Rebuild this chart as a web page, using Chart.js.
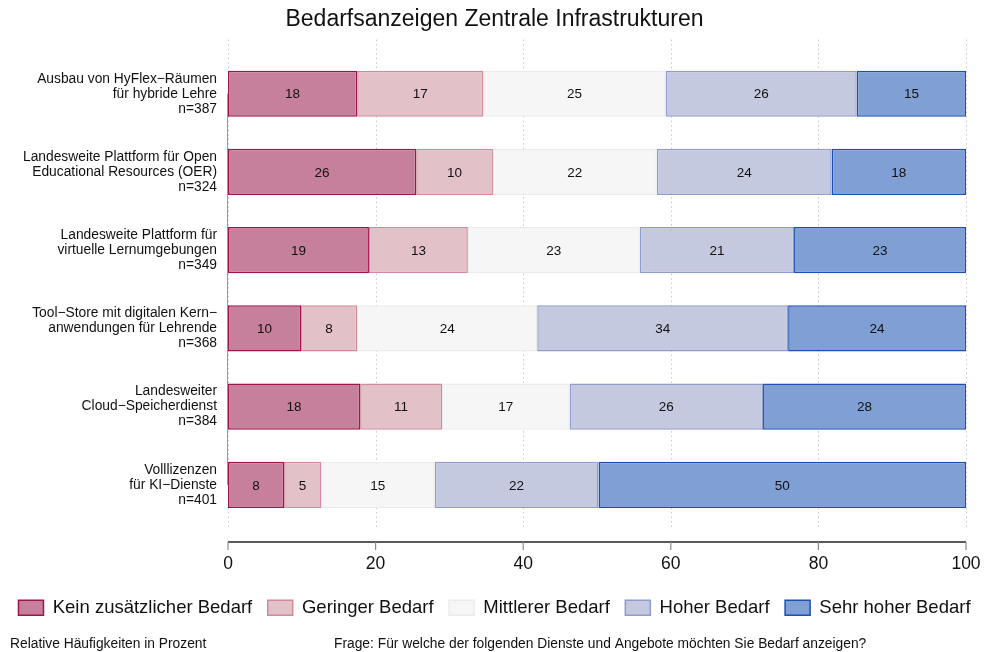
<!DOCTYPE html>
<html lang="de">
<head>
    <meta charset="UTF-8">
    <title>Bedarfsanzeigen Zentrale Infrastrukturen</title>
    <script src="https://cdn.jsdelivr.net/npm/chart.js"></script>
    <style>
        body { margin: 0; background: #fff; }
        #wrap { width: 989px; height: 652px; }
    </style>
</head>
<body>
    <div id="wrap"><canvas id="bedarfChart" width="989" height="652"></canvas></div>

    <script>
        // Werte in Prozent, gelesen aus der Vorlage
        const categories = [
            ["Ausbau von HyFlex−Räumen", "für hybride Lehre", "n=387"],
            ["Landesweite Plattform für Open", "Educational Resources (OER)", "n=324"],
            ["Landesweite Plattform für", "virtuelle Lernumgebungen", "n=349"],
            ["Tool−Store mit digitalen Kern−", "anwendungen für Lehrende", "n=368"],
            ["Landesweiter", "Cloud−Speicherdienst", "n=384"],
            ["Volllizenzen", "für KI−Dienste", "n=401"]
        ];
        const seriesNames = ["Kein zusätzlicher Bedarf", "Geringer Bedarf", "Mittlerer Bedarf", "Hoher Bedarf", "Sehr hoher Bedarf"];
        const keinBedarf     = [17.5, 25.5, 19.1,  9.9, 17.9,  7.6];
        const geringBedarf   = [17.1, 10.4, 13.4,  7.6, 11.1,  5.0];
        const mittelBedarf   = [24.7, 22.2, 23.3, 24.4, 17.3, 15.4];
        const hochBedarf     = [25.9, 23.7, 20.9, 34.0, 26.2, 22.2];
        const sehrHochBedarf = [14.8, 18.2, 23.3, 24.1, 27.5, 49.8];
        const xTicks = [0, 20, 40, 60, 80, 100];

        const fills   = ["#c6809c", "#e2c1c9", "#f6f6f6", "#c5c9e0", "#7f9fd5"];
        const borders = ["#a3134b", "#d08a9c", "#ebebeb", "#909ccc", "#1a4fb5"];
        const FONT = "'Liberation Sans', Arial, Helvetica, sans-serif";

        const values = [keinBedarf, geringBedarf, mittelBedarf, hochBedarf, sehrHochBedarf];
        const datasets = values.map((v, i) => ({
            label: seriesNames[i],
            data: v,
            backgroundColor: fills[i],
            borderColor: borders[i],
            borderWidth: 1.5,
            borderSkipped: false,
            categoryPercentage: 1,
            barPercentage: 0.59
        }));

        // Gitter, Achsen, Zahlen in den Balken, Fußzeile
        const decor = {
            id: 'decor',
            beforeDatasetsDraw(chart) {
                const ctx = chart.ctx, x = chart.scales.x, y = chart.scales.y;
                const area = chart.chartArea;
                ctx.save();
                ctx.strokeStyle = '#c8c8c8';
                ctx.lineWidth = 1;
                ctx.setLineDash([1.5, 3]);
                xTicks.forEach(t => {
                    const px = Math.round(x.getPixelForValue(t)) + 0.5;
                    ctx.beginPath();
                    ctx.moveTo(px, area.top - 15);
                    ctx.lineTo(px, area.bottom + 6);
                    ctx.stroke();
                });
                ctx.setLineDash([]);
                // y-Achse
                ctx.strokeStyle = '#9a9a9a';
                const x0 = x.getPixelForValue(0) - 0.5;
                ctx.beginPath();
                ctx.moveTo(x0, y.getPixelForTick(0));
                ctx.lineTo(x0, y.getPixelForTick(categories.length - 1));
                ctx.stroke();
                // x-Achse
                const ay = area.bottom + 18;
                ctx.strokeStyle = '#222';
                ctx.lineWidth = 1.6;
                ctx.beginPath();
                ctx.moveTo(x.getPixelForValue(0), ay);
                ctx.lineTo(x.getPixelForValue(100), ay);
                ctx.stroke();
                ctx.strokeStyle = '#8a8a8a';
                ctx.lineWidth = 1.2;
                xTicks.forEach(t => {
                    const px = x.getPixelForValue(t);
                    ctx.beginPath();
                    ctx.moveTo(px, ay);
                    ctx.lineTo(px, ay + 8);
                    ctx.stroke();
                });
                ctx.restore();
            },
            afterDatasetsDraw(chart) {
                const ctx = chart.ctx;
                ctx.save();
                ctx.font = '13.5px ' + FONT;
                ctx.fillStyle = '#111';
                ctx.textAlign = 'center';
                ctx.textBaseline = 'middle';
                chart.data.datasets.forEach((ds, i) => {
                    chart.getDatasetMeta(i).data.forEach((bar, j) => {
                        ctx.fillText(String(Math.round(ds.data[j])), (bar.x + bar.base) / 2, bar.y + 1);
                    });
                });
                ctx.restore();
            },
            afterDraw(chart) {
                const ctx = chart.ctx;
                ctx.save();
                ctx.font = '13.8px ' + FONT;
                ctx.fillStyle = '#111';
                ctx.textBaseline = 'middle';
                ctx.textAlign = 'left';
                ctx.fillText('Relative Häufigkeiten in Prozent', 10, 644);
                ctx.fillText('Frage: Für welche der folgenden Dienste und Angebote möchten Sie Bedarf anzeigen?', 334, 644);
                ctx.restore();
            }
        };

        new Chart(document.getElementById('bedarfChart'), {
            type: 'bar',
            data: { labels: categories, datasets: datasets },
            plugins: [decor],
            options: {
                indexAxis: 'y',
                responsive: false,
                animation: false,
                layout: { padding: { top: 0, bottom: 25, left: 0, right: 0 } },
                scales: {
                    x: {
                        stacked: true,
                        min: 0,
                        max: 100,
                        grid: { display: false, drawTicks: true, tickLength: 30 },
                        border: { display: false },
                        afterBuildTicks: s => { s.ticks = xTicks.map(v => ({ value: v })); },
                        afterFit: s => { s.height = 59; },
                        ticks: { color: '#111', padding: 0, font: { size: 17.5, family: FONT } }
                    },
                    y: {
                        stacked: true,
                        grid: { display: false, drawTicks: false },
                        border: { display: false },
                        afterFit: s => { s.width = 228; },
                        ticks: { color: '#111', padding: 11, font: { size: 13.8, family: FONT, lineHeight: 1.087 } }
                    },
                    yRight: {
                        type: 'linear',
                        position: 'right',
                        display: true,
                        grid: { display: false, drawTicks: false },
                        border: { display: false },
                        ticks: { display: false },
                        afterFit: s => { s.width = 23; }
                    }
                },
                plugins: {
                    title: {
                        display: true,
                        text: 'Bedarfsanzeigen Zentrale Infrastrukturen',
                        color: '#111',
                        font: { size: 23, weight: 'normal', family: FONT },
                        padding: { top: 6, bottom: 21 }
                    },
                    legend: {
                        position: 'bottom',
                        labels: {
                            color: '#111',
                            boxWidth: 25,
                            boxHeight: 15,
                            padding: 15.5,
                            font: { size: 18.5, family: FONT }
                        }
                    },
                    tooltip: { enabled: false }
                }
            }
        });
    </script>
</body>
</html>
